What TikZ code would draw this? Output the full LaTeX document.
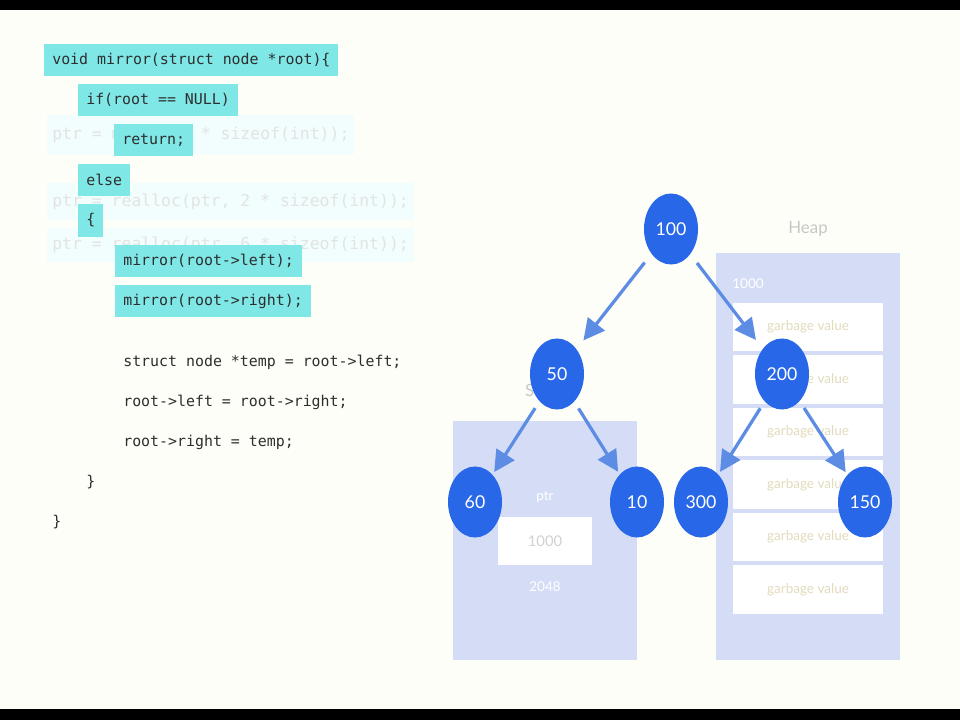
\documentclass[tikz,border=0pt]{standalone}
\usepackage{fontspec}
\setmonofont{DejaVu Sans Mono}
\newfontfamily\latofont{Lato}
\usepackage{xcolor}
\usetikzlibrary{arrows.meta,positioning,shapes.geometric}
\definecolor{hlcyan}{RGB}{128,231,231}
\definecolor{nodeblue}{RGB}{40,104,232}
\definecolor{edgeblue}{RGB}{92,140,228}
\definecolor{panel}{RGB}{213,221,246}
\definecolor{garb}{RGB}{226,219,188}
\definecolor{paper}{RGB}{254,254,249}

\begin{document}
\begin{tikzpicture}[x=0.025cm,y=-0.025cm,
  code/.style={anchor=west,inner xsep=0.2cm,inner ysep=0pt,minimum height=0.8cm,font=\ttfamily\fontsize{10.6}{12}\selectfont,text=black!82},
  hl/.style={code,fill=hlcyan},
  ghost/.style={anchor=west,inner xsep=0.125cm,inner ysep=0pt,font=\ttfamily\fontsize{11.7}{13}\selectfont,text=black!11,fill=hlcyan!10},
  tn/.style={ellipse,fill=nodeblue,text=white,minimum width=1.35cm,minimum height=1.775cm,inner sep=0pt,font=\latofont\fontsize{12.6}{14}\selectfont},
  edge/.style={-{Triangle[length=15pt,width=15pt]},draw=edgeblue,line width=2.3pt},
  cell/.style={fill=white,minimum width=3.75cm,minimum height=1.2cm,inner sep=0pt,font=\latofont\fontsize{9.6}{11}\selectfont,text=garb},
  faint/.style={font=\latofont\fontsize{12}{14}\selectfont,text=black!22},
  memlbl/.style={font=\latofont\fontsize{9.6}{11}\selectfont,text=white}]
  \useasboundingbox (0,0) rectangle (960,720);
  \fill[paper] (0,0) rectangle (960,720);
  \fill[black] (0,0) rectangle (960,10); \fill[black] (0,709) rectangle (960,720);
  \node[ghost,minimum height=1cm](g1)at(47,135){ptr = malloc(2 * sizeof(int));};
  \node[ghost,minimum height=0.925cm](g2)at(47,201.5){ptr = realloc(ptr, 2 * sizeof(int));};
  \node[ghost,minimum height=0.85cm](g3)at(47,245){ptr = realloc(ptr, 6 * sizeof(int));};
  \node[hl](l1)at(44,60){void mirror(struct node *root)\{};
  \node[hl](l2)at(78,100){if(root == NULL)};
  \node[hl](l3)at(114,140){return;};
  \node[hl](l4)at(78,180){else};
  \node[hl](l5)at(78,220.5){\{};
  \node[hl](l6)at(115,261){mirror(root->left);};
  \node[hl](l7)at(115,301){mirror(root->right);};
  \node[code](l8)at(115,362){struct node *temp = root->left;};
  \node[code](l9)at(115,402){root->left = root->right;};
  \node[code](l10)at(115,442){root->right = temp;};
  \node[code](l11)at(78,482){\}};
  \node[code](l12)at(44,522){\}};
  \fill[panel] (453,421) rectangle (637,660);
  \fill[panel] (716,253) rectangle (900,660);
  \node[faint](heap)at(808,229){Heap};
  \node[memlbl](hadr)at(748,284){1000};
  \foreach \i in {0,...,5}
    \node[cell](c\i)at(808,{327+52.5*\i}){garbage value};
  \node[faint](stk)at(545,390){Stack};
  \node[memlbl](sptr)at(545,497){ptr};
  \node[cell,minimum width=2.35cm,text=black!18,font=\latofont\fontsize{10.5}{12}\selectfont](sval)at(545,541){1000};
  \node[memlbl](sadr)at(545,587){2048};
  \node[tn](n100)at(671,229){100};
  \node[tn](n50)at(557,374){50}; \node[tn](n200)at(782,374){200};
  \node[tn](n60)at(475,502){60}; \node[tn](n10)at(637,502){10};
  \node[tn](n300)at(701,502){300}; \node[tn](n150)at(865,502){150};
  \draw[edge,shorten <=0.275cm,shorten >=0.275cm] (n100)--(n50);
  \draw[edge,shorten <=0.275cm,shorten >=0.275cm] (n100)--(n200);
  \foreach \a/\b in {n50/n60,n50/n10,n200/n300,n200/n150}
    \draw[edge,shorten <=0.2cm,shorten >=0.075cm] (\a)--(\b);
\end{tikzpicture}
\end{document}
